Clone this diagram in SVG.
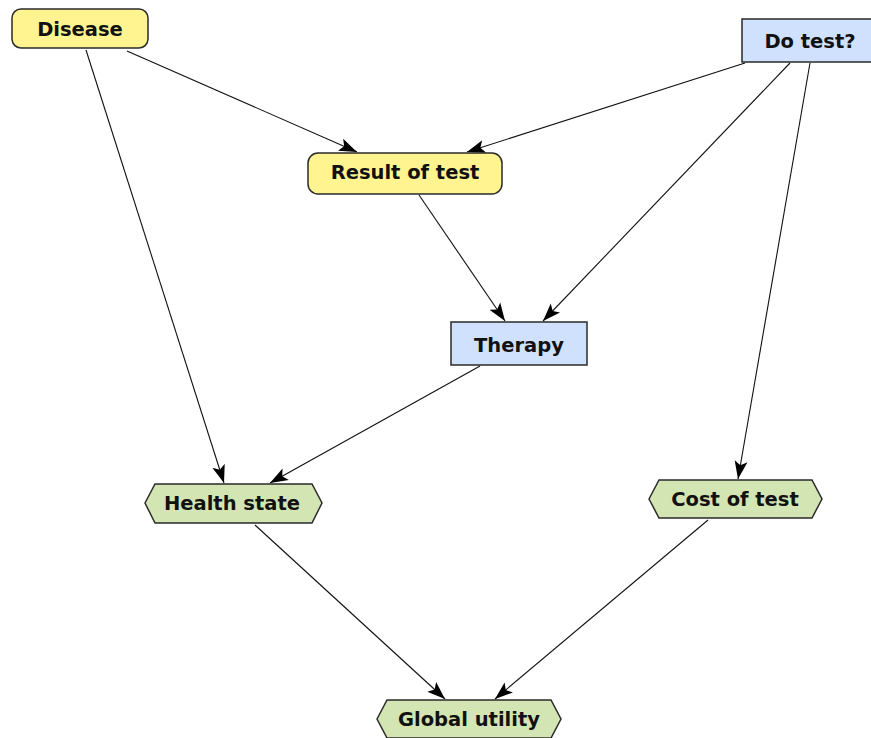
<svg xmlns="http://www.w3.org/2000/svg" width="871" height="738" viewBox="0 0 871 738">
  <style>
    .chance { fill: #fff48f; stroke: #2a2a2a; stroke-width: 1.5; }
    .decision { fill: #cfe1fc; stroke: #2a2a2a; stroke-width: 1.5; }
    .utility { fill: #d4e5b4; stroke: #2a2a2a; stroke-width: 1.5; }
    .label { font-family: "DejaVu Sans", "Liberation Sans", sans-serif; font-weight: bold; font-size: 19.5px; fill: #111; text-anchor: middle; }
    .edge { stroke: #111; stroke-width: 1.1; fill: none; marker-end: url(#arrow); }
  </style>
  <defs>
    <marker id="arrow" markerUnits="userSpaceOnUse" markerWidth="19" markerHeight="14" refX="18" refY="7" orient="auto">
      <path d="M0,0.5 L18,7 L0,13.5 L4,7 Z" fill="#000"/>
    </marker>
  </defs>
  <rect width="871" height="738" fill="#fff"/>

  <!-- influence arcs -->
  <g id="connectors">
    <line class="edge" x1="127" y1="51" x2="357" y2="152"/>
    <line class="edge" x1="86" y1="50" x2="224" y2="483"/>
    <line class="edge" x1="745" y1="63" x2="467" y2="152"/>
    <line class="edge" x1="790" y1="63" x2="543" y2="321"/>
    <line class="edge" x1="810" y1="63" x2="738" y2="479"/>
    <line class="edge" x1="419" y1="195" x2="505" y2="321"/>
    <line class="edge" x1="480" y1="366" x2="270" y2="483"/>
    <line class="edge" x1="255" y1="525" x2="445" y2="699"/>
    <line class="edge" x1="708" y1="520" x2="495" y2="699"/>
  </g>

  <g id="disease">
    <rect class="chance" x="12" y="9" width="136" height="39" rx="9"/>
    <text class="label" x="80" y="36">Disease</text>
  </g>
  <g id="do-test">
    <rect class="decision" x="742" y="19" width="140" height="43"/>
    <text class="label" x="810" y="48">Do test?</text>
  </g>
  <g id="result-of-test">
    <rect class="chance" x="308" y="153" width="194" height="41" rx="10"/>
    <text class="label" x="405" y="179">Result of test</text>
  </g>
  <g id="therapy">
    <rect class="decision" x="451" y="322" width="136" height="43"/>
    <text class="label" x="519" y="352">Therapy</text>
  </g>
  <g id="health-state">
    <polygon class="utility" points="145,503 155,484 312,484 322,503 312,523 155,523"/>
    <text class="label" x="232" y="510">Health state</text>
  </g>
  <g id="cost-of-test">
    <polygon class="utility" points="649,499 659,480 812,480 822,499 812,518 659,518"/>
    <text class="label" x="735" y="506">Cost of test</text>
  </g>
  <g id="global-utility">
    <polygon class="utility" points="377,719 387,700 551,700 561,719 551,738 387,738"/>
    <text class="label" x="469" y="726">Global utility</text>
  </g>
</svg>
